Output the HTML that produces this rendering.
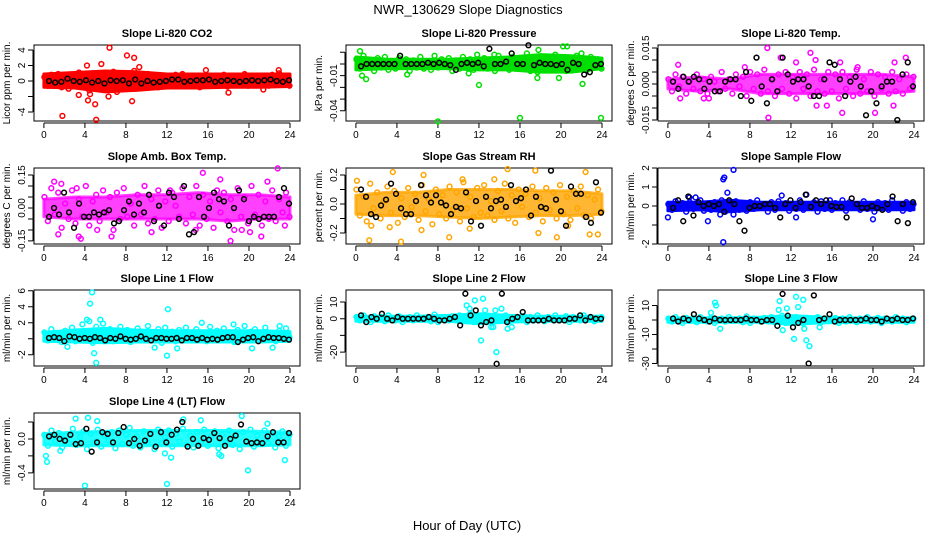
<!DOCTYPE html>
<html><head><meta charset="utf-8"><style>
html,body{margin:0;padding:0;background:#fff}
svg{display:block;font-family:"Liberation Sans",Arial,sans-serif}
</style></head><body>
<svg id="c" width="936" height="540" viewBox="0 0 936 540">
<text x="468" y="14" text-anchor="middle" font-size="13">NWR_130629  Slope Diagnostics</text>
<text x="467" y="530" text-anchor="middle" font-size="13">Hour of Day (UTC)</text>
</svg>
<script>
const xTicks=[0,4,8,12,16,20,24];
const envHours=[0,3,6,9,12,15,18,21,24];
// Panel 1 CO2
const co2Band=[0.5,-0.6,0.8,-0.3,0.9,-0.8,0.4,-1,0.6,-0.5,1.1,-0.7,0.3,-1.2,0.7,-0.4,1,-0.9,0.5,-0.6,1.2,-1.4,0.8,-0.5,0.6,-0.9,1.3,-0.3,0.4,-0.7,0.9,-0.6,0.3,-0.8,0.7,-0.4,0.5,-0.6,0.8,-0.3,0.9,-0.7,0.4,-0.5,0.6,-0.8,0.3,-0.4,0.7,-0.6,0.5,-0.3,0.8,-0.7,0.4,-0.5,0.6,-0.4,0.9,-0.6,0.3,-0.5,0.7,-0.4,0.5,-0.6,0.8,-0.3,1,-0.5,0.4,-0.6];
const co2Up=[0.9,1.1,1.3,1.2,0.9,0.9,0.9,0.9,0.9];
const co2Lo=[-0.8,-0.9,-1.4,-1.2,-0.9,-0.9,-0.8,-0.8,-0.7];
const co2OutH=[1.8,6.4,8.1,8.8,5.1,5.0,4.3,8.6,5.6,4.2,18,3.4,9.3,4.5,6.3,15.8,22.9,21.4];
const co2OutV=[-4.5,4.3,3.3,3.0,-5.0,-3.0,-2.5,-2.6,2.2,2.0,-1.5,-1.8,1.8,-1.7,-2.0,1.4,1.4,-1.1];
const co2Black=[0,-0.2,-0.1,0.3,0,-0.1,0.1,-0.2,0,-0.3,0.1,0,0.1,-0.3,0.2,-0.3,0,-0.2,-0.1,0,0.2,0.2,-0.1,0,0.1,0.1,0.2,-0.1,0,0.1,0,-0.1,0,0.1,0,0.1,0.2,0,-0.1,0.1];
// Panel 2 pressure
const prBand=[0.004,-0.004,0.007,-0.002,0.003,-0.006,0.005,-0.003,0.006,-0.005,0.002,-0.004,0.005,-0.002,0.004,-0.006,0.003,-0.003,0.006,-0.004,0.002,-0.005,0.007,-0.003,0.004,-0.002,0.005,-0.006,0.003,-0.004,0.006,-0.003,0.004,-0.005,0.008,-0.002,0.005,-0.004,0.003,-0.006,0.007,-0.003,0.002,-0.005,0.006,-0.004,0.004,-0.002,0.009,-0.006,0.005,-0.007,0.003,-0.004,0.006,-0.003,0.008,-0.005,0.004,-0.006,0.005,-0.003,0.007,-0.004,0.003,-0.005,0.006,-0.002,0.004,-0.004];
const prUp=[0.006,0.004,0.004,0.004,0.005,0.006,0.008,0.007,0.005];
const prLo=[-0.005,-0.004,-0.004,-0.004,-0.005,-0.005,-0.007,-0.007,-0.004];
const prOutH=[8,16,23.9,12,17.7,1,0.6,20.2,20.6,0.4,22,22.1,19.8,11,13.5,17.8,5];
const prOutV=[-0.049,-0.046,-0.046,-0.018,-0.012,-0.013,-0.010,0.015,0.015,0.011,0.009,-0.017,-0.012,-0.008,0.008,0.012,-0.009];
const prBlack=[-0.002,0,0,0,0,0,0,0.007,0,0,0,0,0.001,0,0.001,0,-0.001,-0.005,0,0.001,0,0.001,-0.002,0.013,0,0,0.002,0.009,0,0,0.016,-0.001,0.001,0,0,-0.001,0,-0.005,0.001,0,-0.009,-0.007,-0.001,0];
// Panel 3 Li-820 temp
const tBand=[0.002,-0.003,0.004,-0.001,0.003,-0.004,0.001,-0.002,0.004,-0.003,0.002,-0.004,0.003,0.001,-0.003,0.005,-0.002,0.002,-0.004,0.004,-0.001,0.003,-0.005,0.005,-0.002,0.004,-0.004,0.006,-0.003,0.002,-0.005,0.004,-0.002,0.005,-0.004,0.003,-0.006,0.005,-0.002,0.004,-0.005,0.006,-0.003,0.002,-0.004,0.005,-0.003,0.004,-0.006,0.005,-0.002,0.003,-0.005,0.006,-0.004,0.002,-0.003,0.005,-0.005,0.004,-0.002,0.003,-0.004,0.005,-0.003,0.002,-0.004,0.004,-0.002,0.003];
const tUp=[0.002,0.003,0.002,0.004,0.004,0.004,0.004,0.004,0.003];
const tLo=[-0.002,-0.003,-0.002,-0.004,-0.004,-0.004,-0.004,-0.004,-0.003];
const tOutH=[9.7,13.9,11,1,9.8,17,14.5,15.5,22,20.2,22.1,23.2,14.4,1.2,3.5,4,7.5,12.5,18.5,16.8];
const tOutV=[0.015,0.013,0.011,0.008,-0.014,-0.012,-0.009,-0.009,-0.009,-0.012,0.009,0.011,0.010,-0.006,-0.006,-0.006,0.007,0.009,0.007,0.009];
const tBlack=[0.001,-0.002,0.003,0.001,0.003,0.002,-0.002,0.001,-0.003,-0.003,0.001,0.002,0.002,-0.005,0.005,-0.007,0.011,-0.001,-0.008,0.002,-0.003,0.011,0.004,0.001,0.002,0.002,-0.001,-0.005,-0.005,0.002,0.009,0.008,0.002,-0.005,0.001,0.003,-0.001,-0.013,-0.003,-0.008,-0.001,0.001,0.001,-0.015,0.004,0.009,-0.001];
// Panel 4 amb box temp
const aBand=[0.05,-0.06,0.09,-0.03,0.07,-0.09,0.02,-0.05,0.08,-0.07,0.04,-0.04,0.1,-0.08,0.03,0.06,-0.06,0.08,-0.02,0.05,-0.1,0.07,-0.05,0.09,-0.04,0.02,-0.08,0.06,-0.03,0.1,-0.07,0.04,-0.05,0.08,-0.09,0.03,-0.06,0.07,0.01,-0.04,0.09,-0.07,0.05,-0.03,0.1,-0.08,0.06,-0.05,0.03,-0.09,0.08,-0.02,0.07,-0.06,0.04,-0.1,0.09,-0.04,0.05,-0.07,0.1,-0.03,0.06,-0.08,0.03,-0.05,0.08,-0.06,0.04,-0.02,0.07,-0.04];
const aUp=[0.04,0.05,0.05,0.06,0.06,0.07,0.06,0.06,0.05];
const aLo=[-0.04,-0.05,-0.05,-0.05,-0.05,-0.05,-0.06,-0.05,-0.05];
const aOutH=[1,1.7,3.4,3.6,1.4,6.6,15.5,18.2,22.8,21.8,17.2,10.5,5.2,14.8,19.3,20.1,21.2,23.5,3.2,12.3];
const aOutV=[0.12,0.11,-0.13,-0.14,-0.12,-0.13,0.16,-0.15,0.18,0.12,0.13,-0.11,-0.1,-0.1,-0.1,-0.11,-0.13,-0.08,0.09,0.08];
const aBlack=[-0.04,0,-0.03,0.07,-0.02,-0.09,0.02,-0.04,-0.04,-0.02,-0.03,-0.02,-0.01,-0.07,-0.06,-0.01,0.03,-0.03,0.02,-0.02,0.06,-0.06,0.01,-0.08,0.07,0.05,-0.05,0.1,-0.12,-0.11,0.05,-0.04,0,0.07,0.04,0.03,-0.08,0,0.08,0.04,-0.06,-0.04,-0.05,-0.04,-0.04,-0.04,0.05,0.09,0.02];
// Panel 5 gas stream RH
const hBand=[0.1,-0.08,0.05,-0.12,0.14,-0.03,0.08,-0.1,0.02,0.12,-0.06,0.09,-0.13,0.04,-0.09,0.11,-0.02,0.07,-0.11,0.13,-0.05,0.03,-0.14,0.1,-0.07,0.06,-0.1,0.12,-0.04,0.08,-0.12,0.15,-0.03,0.05,-0.09,0.11,-0.06,0.13,-0.08,0.02,-0.11,0.09,-0.05,0.14,-0.1,0.06,-0.13,0.1,-0.02,0.07,-0.09,0.12,-0.06,0.04,-0.12,0.11,-0.04,0.08,-0.1,0.13,-0.07,0.05,-0.11,0.09,-0.03,0.12,-0.08,0.06,-0.1,0.03,0.1,-0.05];
const hUp=[0.06,0.08,0.08,0.1,0.1,0.1,0.09,0.09,0.07];
const hLo=[-0.07,-0.08,-0.08,-0.09,-0.1,-0.09,-0.08,-0.08,-0.07];
const hOutH=[0.1,1.5,1.3,3.3,4.4,3.6,6.6,9.1,14.8,17.5,19.6,20.7,22.4,23.6,22.8,11.1,13.5,17.8,6.4,10.4];
const hOutV=[0.16,-0.15,-0.25,-0.16,-0.26,0.22,0.2,-0.23,0.24,0.23,-0.23,-0.15,0.22,-0.21,-0.21,-0.17,0.17,-0.2,-0.18,0.17];
const hBlack=[0.1,0.05,-0.07,-0.09,-0.01,0.03,0.14,0.07,-0.03,-0.07,-0.07,0.02,0.13,0.06,0.01,0.06,0.01,-0.01,-0.07,-0.02,-0.03,0.08,-0.12,0.02,-0.15,0.05,-0.03,0.02,0.03,-0.02,0.13,0.02,0.04,0.1,-0.08,0.05,-0.02,-0.03,0.23,0.03,-0.05,-0.15,0.12,0.07,0.07,-0.09,-0.13,0.15,-0.06];
// Panel 6 sample flow
const fBand=[0.1,-0.2,0.25,-0.1,0.15,-0.3,0.2,-0.15,0.05,0.3,-0.25,0.1,-0.2,0.2,-0.1,0.3,-0.3,0.15,-0.05,0.25,-0.2,0.1,-0.25,0.2,-0.15,0.3,-0.1,0.05,-0.3,0.2,-0.2,0.25,-0.1,0.15,-0.25,0.1,-0.15,0.3,-0.2,0.05,-0.1,0.2,-0.3,0.25,-0.15,0.1,-0.2,0.15,-0.05,0.3,-0.25,0.2,-0.1,0.1,-0.2,0.25,-0.15,0.05,-0.3,0.2,-0.1,0.15,-0.2,0.3,-0.05,0.1,-0.25,0.2,-0.15,0.1];
const fUp=[0.2,0.2,0.3,0.2,0.2,0.2,0.2,0.2,0.2];
const fLo=[-0.25,-0.2,-0.3,-0.2,-0.2,-0.2,-0.2,-0.2,-0.2];
const fOutH=[5.5,5.4,6.4,5.8,5.4,13.5,3.9,20,12.5,0,11.1,2.1,2.7,5.1,6.4,15.8];
const fOutV=[1.5,1.4,1.9,0.7,-1.9,0.6,-0.8,-0.7,-0.6,-0.6,0.55,0.45,0.45,-0.45,-0.45,0.3];
const fBlack=[-0.1,0.3,-0.8,0.5,-0.5,0.2,0,0.1,0,0.1,-0.3,0.3,0.1,-0.8,-1.3,-0.1,0,0,0.1,0.1,-0.1,-0.6,0.1,0.3,-0.1,0.2,0.6,-0.05,0.3,0.1,0.3,0,-0.05,-0.05,-0.6,0.4,0.1,-0.1,-0.1,0,-0.1,-0.2,0.1,0.5,-0.8,0.1,-0.9,0.2];
// Panel 7 line 1 flow
const l1Band=[0.8,-0.2,1.2,0.3,0.6,-0.4,1,0.1,1.4,-0.3,0.7,1.8,0.2,2.2,-0.5,1.5,0.4,1.9,0,1.2,-0.3,0.9,1.5,0.2,1.1,-0.4,0.6,1.3,0,0.8,1.6,-0.2,0.5,1.2,-0.5,1.4,0.3,0.9,-0.3,1.1,0.6,1.4,-0.2,0.8,1.2,0.1,0.7,-0.3,1.5,0.4,1,-0.1,1.3,0.5,0.8,-0.4,1.1,0.2,1.6,0,0.9,1.2,-0.2,0.7,1.4,0.3,0.6,-0.3,1,0.5,1.3,0.2];
const l1Up=[0.8,1.1,1.3,1.1,1.0,1.0,1.0,1.0,0.9];
const l1Lo=[-0.3,-0.4,-0.5,-0.4,-0.4,-0.4,-0.4,-0.4,-0.3];
const l1OutH=[4.7,4.5,12.1,12,4.9,5.1,15.4,4.2,2.3,13,10.8,20.3,22.3,5.5,23,18.5];
const l1OutV=[5.8,4.4,3.7,-2.1,-1.8,-3,2,2.4,-1,-1.2,-1.1,-1.2,-1.1,2.4,1.6,1.8];
const l1Black=[0.1,0.2,0.1,-0.3,0.3,0.2,0,0.1,0,0.2,0.1,-0.2,0.1,0,0.3,0,-0.1,0,0.3,0,-0.2,0.1,0.1,0,0,0.1,-0.2,0.1,0.1,-0.1,0.1,-0.1,0,-0.1,0.1,0.2,0.2,-0.4,-0.1,0.1,0.2,-0.3,0,0.2,0.1,0.1,0,-0.1];
// Panel 8 line 2 flow
const l2Band=[1,-1,2,0,-2,1.5,-0.5,1,-1.5,2,0,-1,1.5,-2,0.5,1,-1,2,-0.5,0,1,-1.5,2.5,-2,1,0,-1,1.5,-0.5,2,-1.5,0.5,3,-2,1,-1,2,0,-2.5,1.5,-1,0.5,2,-1.5,1,-0.5,0,1.5,-2,1,-1,2,0,-1.5,1,-0.5,2,-1,0.5,1.5,-2,1,0,-1,2,-0.5,1,-1.5,0.5,1];
const l2Up=[1.5,1.5,1.5,2,3,2,1.5,1.5,1.5];
const l2Lo=[-1.5,-1.5,-1.5,-1.5,-3,-2,-1.5,-1.5,-1.5];
const l2OutH=[10.8,11.1,11.6,12.4,12.2,13.7,13.4,13.6,12.6,14.2,14.8,15.2,13.2];
const l2OutV=[8,6,11,12,-13,-20,-5,5,5,6,-6,-5,-5];
const l2Black=[2,-2,1,0,3,0,-1,1,0,0,0,0,0,1,0,-1,-1,0,1,-4,15,2,5,-4,-2,-1,-27,15,-2,0,1,4,-1,-1,-1,-1,0,-1,-1,-1,0,0,2,-1,1,0,0];
// Panel 9 line 3 flow
const l3Band=[1,-1,2,0,-2,1.5,-0.5,1,-1.5,2,0,-1,1.5,-2,0.5,1,-1,2,-0.5,0,1,-1.5,2.5,-2,1,0,-1,1.5,-0.5,2,-1.5,0.5,3,-2,1,-1,2,0,-2.5,1.5,-1,0.5,2,-1.5,1,-0.5,0,1.5,-2,1,-1,2,0,-1.5,1,-0.5,2,-1,0.5,1.5,-2,1,0,-1,2,-0.5,1,-1.5,0.5,1];
const l3Up=[1.5,1.5,1.5,2,3,2,1.5,1.5,1.5];
const l3Lo=[-1.5,-1.5,-1.5,-1.5,-3,-2,-1.5,-1.5,-1.5];
const l3OutH=[4.7,4.6,5.1,10.9,10.8,12.5,13.2,11.2,12.3,13.5,13.8,12.7,14.8,13.3,11.6,4.2];
const l3OutV=[10,12,-6,13,7,16,14,-7,-13,-14,-18,9,-5,-6,8,5];
const l3Black=[1,-1,1,0,4,1,0,-1,1,0,0,0,0,0,1,0,0,-1,0,0,-4,18,3,-5,-2,0,-30,17,0,1,4,-1,0,0,0,0,0,1,0,0,-1,1,0,1,0,0,1];
// Panel 10 line 4 flow
const l4Band=[0.05,-0.08,0.1,-0.03,0.07,-0.1,0.03,-0.05,0.12,-0.07,0.02,0.09,-0.12,0.06,-0.04,0.11,-0.09,0.04,-0.02,0.08,-0.11,0.1,-0.06,0.05,0.13,-0.08,0.03,-0.1,0.09,-0.04,0.07,-0.12,0.11,-0.05,0.02,0.1,-0.09,0.06,-0.03,0.12,-0.07,0.04,-0.1,0.08,-0.05,0.11,-0.08,0.03,0.09,-0.11,0.05,-0.04,0.1,-0.07,0.06,-0.12,0.08,-0.03,0.11,-0.09,0.04,-0.06,0.1,-0.05,0.07,-0.1,0.03,0.09,-0.08,0.05];
const l4Up=[0.06,0.08,0.09,0.1,0.1,0.1,0.1,0.09,0.08];
const l4Lo=[-0.07,-0.08,-0.08,-0.08,-0.08,-0.08,-0.08,-0.08,-0.07];
const l4OutH=[4,12,19.9,23.5,19.3,4.3,3.1,13.6,15.3,0.2,17.3,12.4,0.3,1.6,17.1,11.8,5.2,21.8];
const l4OutV=[-0.55,-0.53,-0.37,-0.25,0.27,0.25,0.24,0.23,0.22,-0.2,-0.2,-0.22,-0.27,-0.14,-0.18,-0.17,0.21,0.18];
const l4Black=[0.03,0.05,0,-0.02,0.05,-0.06,-0.05,0.12,-0.15,-0.04,0.08,0.06,-0.04,0.07,0.14,-0.05,0,-0.08,-0.02,0.06,-0.09,0.08,-0.04,0.05,0.11,0.2,-0.09,0,-0.08,0.01,-0.01,0.07,0.01,-0.08,0,0.04,0.17,-0.03,-0.05,-0.04,-0.05,0.03,0.08,-0.04,-0.04,0.07];

const cols=[34,346,658], rows=[45,168,290,413], W=266, H=76;
const panels=[
 {n:'co2',t:'Slope Li-820 CO2',yl:'Licor ppm per min.',c:0,r:0,top:4.65,bot:-5.16,ticks:[-4,-2,0,2,4],labs:['4','2','0','-4'],col:'#ff0000',op:1,band:co2Band,up:co2Up,lo:co2Lo,oh:co2OutH,ov:co2OutV,bk:co2Black},
 {n:'pressure',t:'Slope Li-820 Pressure',yl:'kPa per min.',c:1,r:0,top:0.0162,bot:-0.0487,ticks:[-0.04,-0.03,-0.02,-0.01,0,0.01],labs:['-0.01','-0.04'],col:'#00e000',op:1,band:prBand,up:prUp,lo:prLo,oh:prOutH,ov:prOutV,bk:prBlack},
 {n:'li820-temp',t:'Slope Li-820 Temp.',yl:'degrees C per min.',c:2,r:0,top:0.01625,bot:-0.0154,ticks:[-0.015,-0.01,-0.005,0,0.005,0.01,0.015],labs:['0.015','0.000','-0.015'],col:'#ff00ff',op:0.75,band:tBand,up:tUp,lo:tLo,oh:tOutH,ov:tOutV,bk:tBlack},
 {n:'amb-box-temp',t:'Slope Amb. Box Temp.',yl:'degrees C per min.',c:0,r:1,top:0.182,bot:-0.164,ticks:[-0.15,-0.1,-0.05,0,0.05,0.1,0.15],labs:['0.15','0.00','-0.15'],col:'#ff00ff',op:0.75,band:aBand,up:aUp,lo:aLo,oh:aOutH,ov:aOutV,bk:aBlack},
 {n:'gas-stream-rh',t:'Slope Gas Stream RH',yl:'percent per min.',c:1,r:1,top:0.248,bot:-0.276,ticks:[-0.2,-0.1,0,0.1,0.2],labs:['0.2','0.0','-0.2'],col:'#ffa500',op:0.8,band:hBand,up:hUp,lo:hLo,oh:hOutH,ov:hOutV,bk:hBlack},
 {n:'sample-flow',t:'Slope Sample Flow',yl:'ml/min per min.',c:2,r:1,top:2.0,bot:-2.0,ticks:[-2,-1,0,1,2],labs:['2','1','0','-2'],col:'#0000ff',op:1,band:fBand,up:fUp,lo:fLo,oh:fOutH,ov:fOutV,bk:fBlack},
 {n:'line1-flow',t:'Slope Line 1 Flow',yl:'ml/min per min.',c:0,r:2,top:6.1,bot:-3.4,ticks:[-2,0,2,4,6],labs:['6','4','2','-2'],col:'#00ffff',op:1,band:l1Band,up:l1Up,lo:l1Lo,oh:l1OutH,ov:l1OutV,bk:l1Black},
 {n:'line2-flow',t:'Slope Line 2 Flow',yl:'ml/min per min.',c:1,r:2,top:17.2,bot:-28.3,ticks:[-20,-10,0,10],labs:['10','0','-20'],col:'#00ffff',op:1,band:l2Band,up:l2Up,lo:l2Lo,oh:l2OutH,ov:l2OutV,bk:l2Black},
 {n:'line3-flow',t:'Slope Line 3 Flow',yl:'ml/min per min.',c:2,r:2,top:20.7,bot:-31.7,ticks:[-30,-20,-10,0,10],labs:['10','-10','-30'],col:'#00ffff',op:1,band:l3Band,up:l3Up,lo:l3Lo,oh:l3OutH,ov:l3OutV,bk:l3Black},
 {n:'line4-flow',t:'Slope Line 4 (LT) Flow',yl:'ml/min per min.',c:0,r:3,top:0.306,bot:-0.59,ticks:[-0.4,-0.2,0,0.2],labs:['0.0','-0.4'],col:'#00ffff',op:0.85,band:l4Band,up:l4Up,lo:l4Lo,oh:l4OutH,ov:l4OutV,bk:l4Black}
];
const svg=document.getElementById('c');
const NS='http://www.w3.org/2000/svg';
function mk(tag,at,parent){const e=document.createElementNS(NS,tag);for(const k in at)e.setAttribute(k,at[k]);(parent||svg).appendChild(e);return e;}
panels.forEach(p=>{
 const L=cols[p.c],T=rows[p.r],B=T+H;
 const g=mk('g',{});
 
 
 const xs=h=>L+9.9+h*(W-19.9)/24;
 const ys=v=>T+(p.top-v)/(p.top-p.bot)*H;
 const tt=mk('text',{x:L+W/2,y:T-8,'text-anchor':'middle','font-size':11,'font-weight':'bold'},g);tt.textContent=p.t;
 
 
 const yl=mk('text',{x:0,y:0,transform:`translate(${L-24},${T+H/2}) rotate(-90)`,'text-anchor':'middle','font-size':10},g);yl.textContent=p.yl;
 
 
 const xa=mk('path',{d:`M${xs(0)},${B+2}H${xs(24)}`+xTicks.map(h=>`M${xs(h)},${B+2}v5`).join(''),stroke:'#000',fill:'none','stroke-width':1},g);
 
 
 xTicks.forEach(h=>{const t=mk('text',{x:xs(h),y:B+17,'text-anchor':'middle','font-size':10},g);t.textContent=h;
  
  });
 const tmin=Math.min(...p.ticks),tmax=Math.max(...p.ticks);
 const ya=mk('path',{d:`M${L-1},${ys(tmin)}V${ys(tmax)}`+p.ticks.map(v=>`M${L-1},${ys(v)}h-5`).join(''),stroke:'#000',fill:'none','stroke-width':1},g);
 
 
 p.labs.forEach(s=>{const v=parseFloat(s);const t=mk('text',{x:0,y:0,transform:`translate(${L-9},${ys(v)}) rotate(-90)`,'text-anchor':'middle','font-size':10},g);t.textContent=s;
  
  });
 const box=mk('rect',{x:L,y:T,width:W,height:H,fill:'none',stroke:'#000','stroke-width':1},g);
 
 
 const pts=envHours.map((h,i)=>`${xs(h)},${ys(p.up[i])}`).concat(envHours.map((h,i)=>`${xs(h)},${ys(p.lo[i])}`).reverse()).join(' ');
 const env=mk('polygon',{points:pts,fill:p.col,stroke:p.col,'stroke-width':3,'stroke-linejoin':'round','fill-opacity':p.op,'stroke-opacity':p.op},g);
 
 
 const n=p.band.length;
 p.band.forEach((v,i)=>{const h=0.05+i*23.9/(n-1);
  const c=mk('circle',{cx:xs(h),cy:ys(v),r:2.4,fill:'none',stroke:p.col,'stroke-width':1.5},g);
  
  });
 p.oh.forEach((h,i)=>{const c=mk('circle',{cx:xs(h),cy:ys(p.ov[i]),r:2.4,fill:'none',stroke:p.col,'stroke-width':1.5},g);
  
  });
 const m=p.bk.length;
 p.bk.forEach((v,i)=>{const h=0.5+i*23.4/(m-1);
  const c=mk('circle',{cx:xs(h),cy:ys(v),r:2.4,fill:'none',stroke:'#000','stroke-width':1.5},g);
  
  });
});
</script>
</body></html>
